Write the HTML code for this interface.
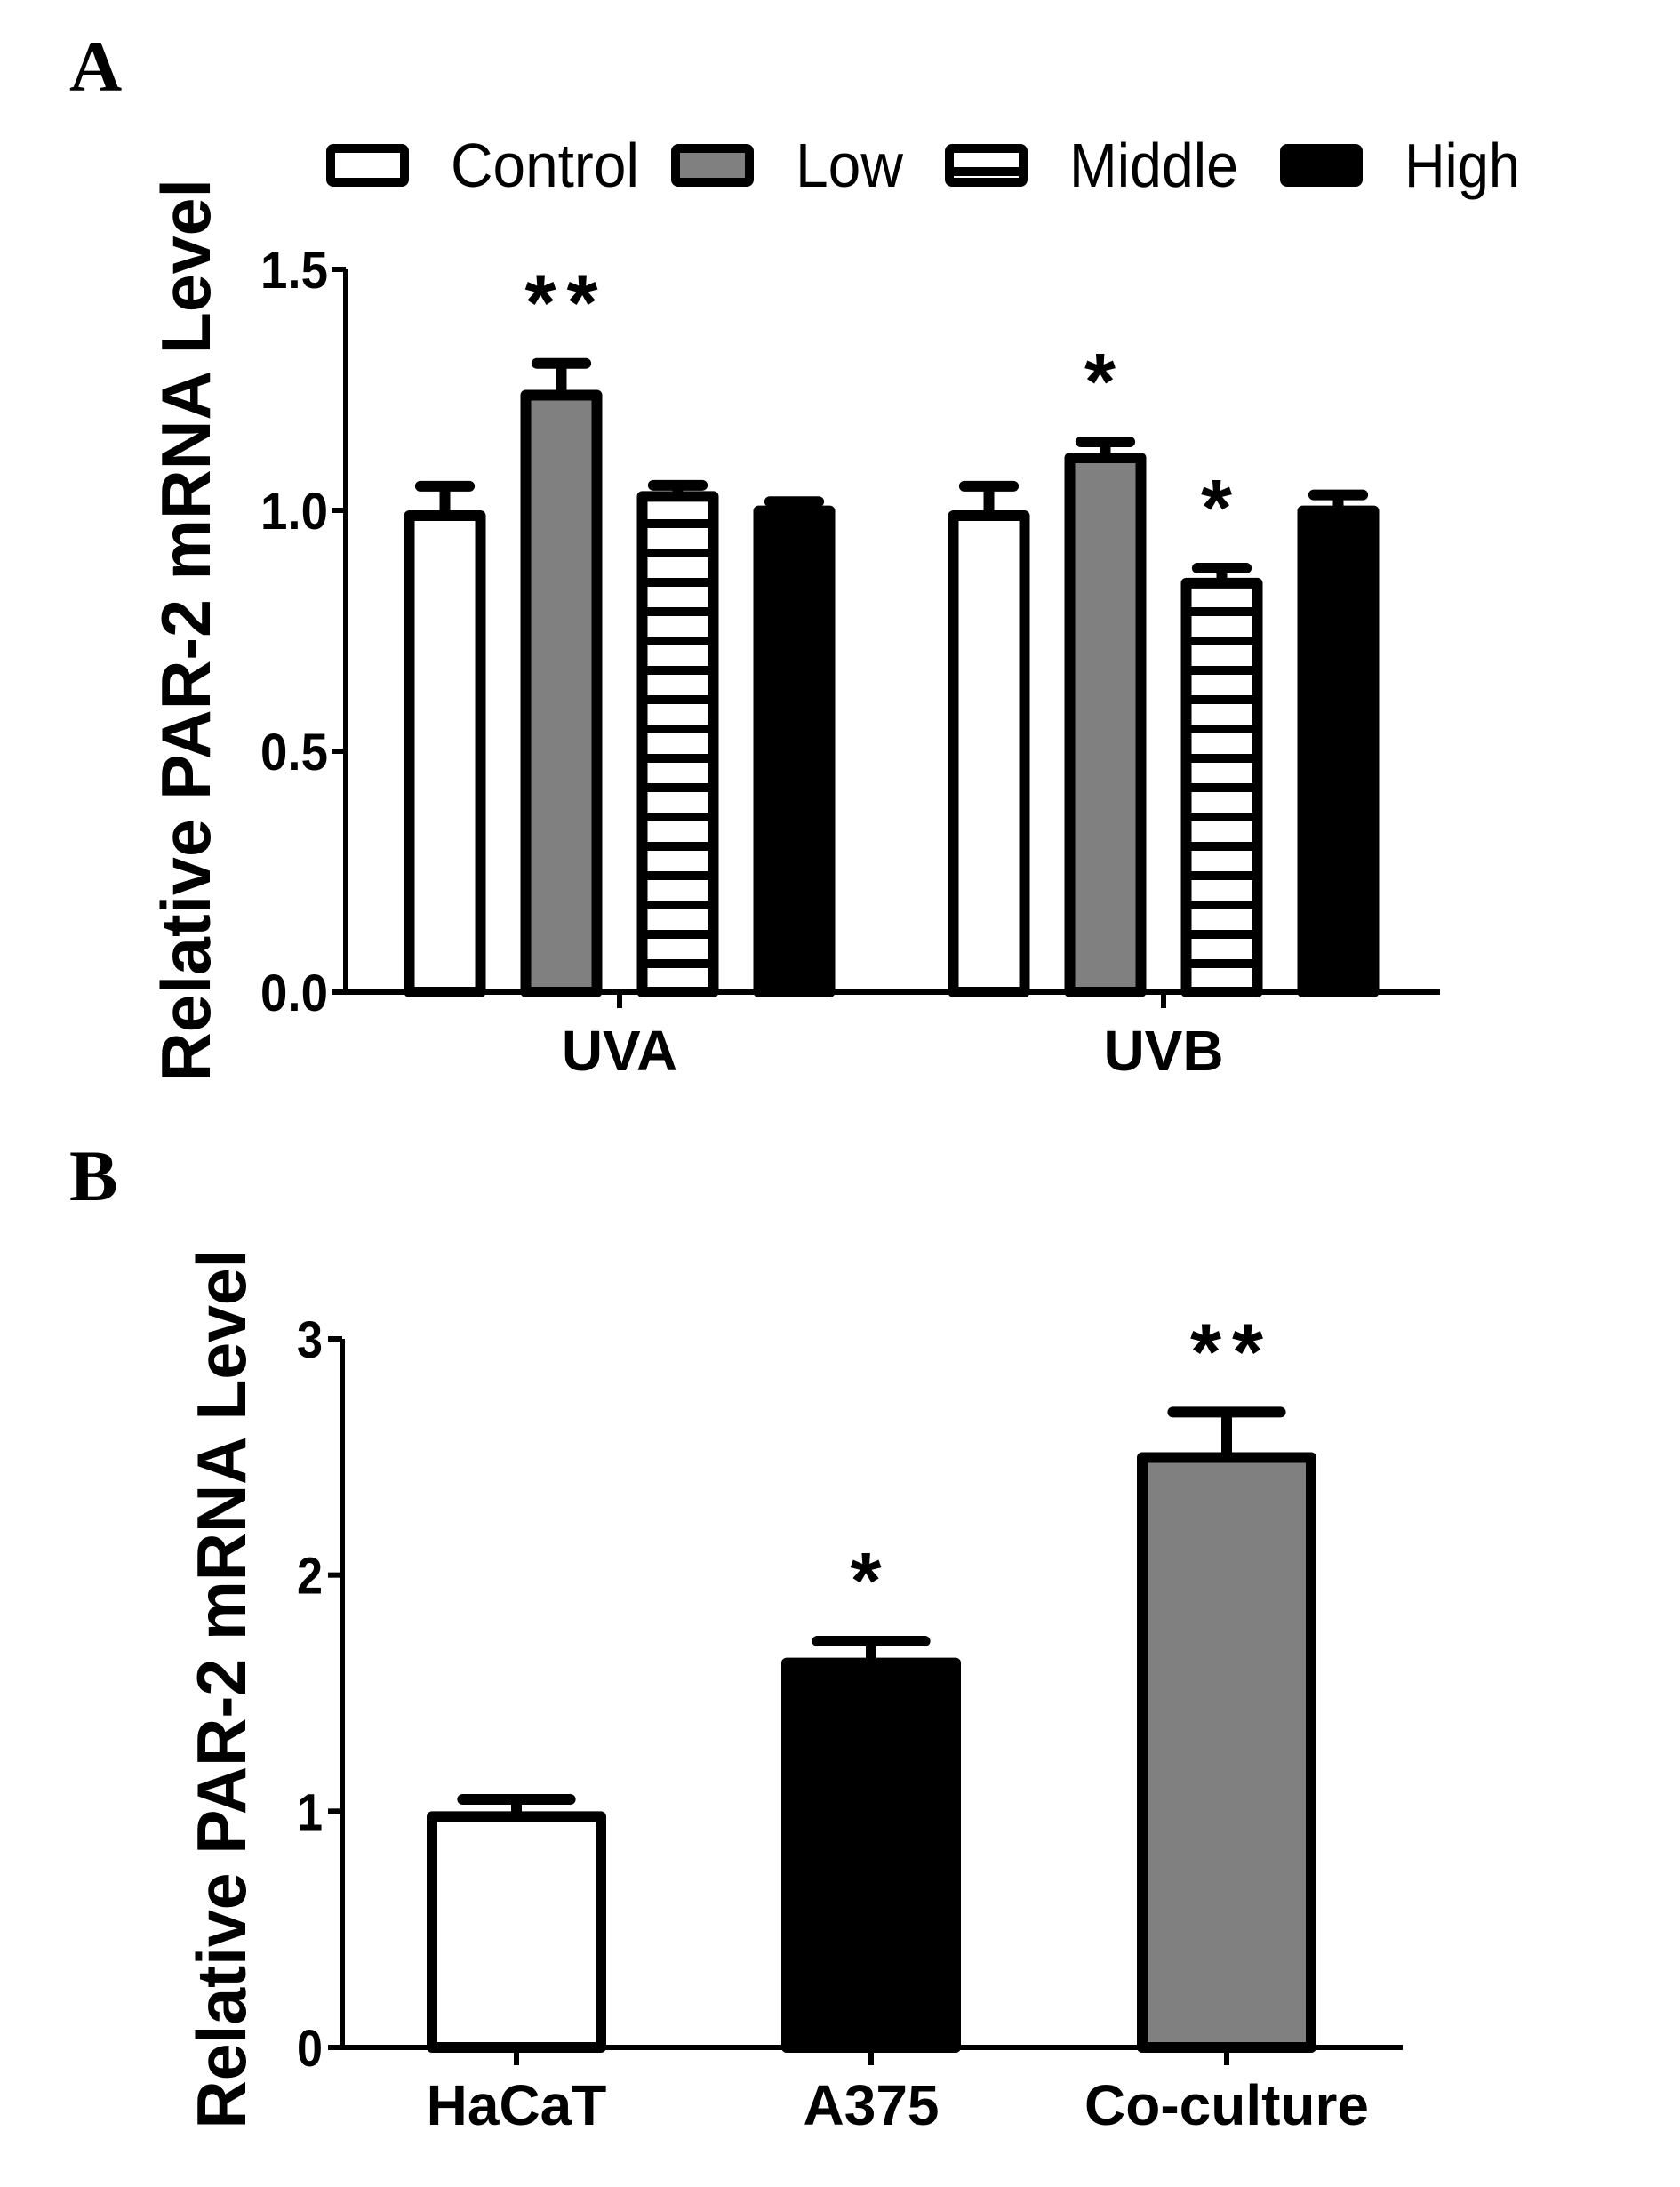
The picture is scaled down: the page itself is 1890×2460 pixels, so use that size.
<!DOCTYPE html>
<html><head><meta charset="utf-8"><style>
html,body{margin:0;padding:0;background:#fff;}
svg{display:block;}
text{font-family:"Liberation Sans",sans-serif;fill:#000;}
</style></head><body>
<svg id="fig" width="1890" height="2460" viewBox="0 0 1890 2460" xmlns="http://www.w3.org/2000/svg">
<defs>
<pattern id="hatch" patternUnits="userSpaceOnUse" width="20" height="33">
<rect x="0" y="0" width="20" height="33" fill="#fff"/>
<rect x="0" y="23" width="20" height="10" fill="#000"/>
</pattern>
</defs>
<text x="78" y="102" style="font-family:'Liberation Serif',serif;font-weight:bold;font-size:82px">A</text>
<text x="78" y="1350" style="font-family:'Liberation Serif',serif;font-weight:bold;font-size:82px">B</text>
<g id="chartA"></g>
<g id="chartB"></g>
</svg>
<script>
// Panel A data
const aGroups = ["UVA", "UVB"];
const aSeries = ["Control", "Low", "Middle", "High"];
const aUVA = [1.00, 1.25, 1.04, 1.01];
const aUVAErr = [0.05, 0.055, 0.012, 0.008];
const aUVB = [1.00, 1.12, 0.86, 1.01];
const aUVBErr = [0.05, 0.022, 0.02, 0.022];
const aUVASig = ["", "**", "", ""];
const aUVBSig = ["", "*", "*", ""];
const aTicks = [0.0, 0.5, 1.0, 1.5];
const aTickLabels = ["0.0", "0.5", "1.0", "1.5"];
// Panel B data
const bCats = ["HaCaT", "A375", "Co-culture"];
const bVals = [1.00, 1.65, 2.52];
const bErr = [0.05, 0.07, 0.17];
const bSig = ["", "*", "**"];
const bTicks = [0, 1, 2, 3];
const bTickLabels = ["0", "1", "2", "3"];

const NS = "http://www.w3.org/2000/svg";
function mk(parent, tag, attrs, txt) {
  const e = document.createElementNS(NS, tag);
  for (const k in attrs) e.setAttribute(k, attrs[k]);
  if (txt !== undefined) e.textContent = txt;
  parent.appendChild(e);
  return e;
}
const fills = {"Control": "#fff", "Low": "#808080", "Middle": "url(#hatch)", "High": "#000"};
const SW = 12;

function drawBar(g, cx, w, yTop, yBase, fill, errTop, name) {
  const r = mk(g, "rect", {x: cx - w/2 + SW/2, y: yTop + SW/2, width: w - SW, height: yBase - yTop - SW/2, fill: fill, stroke: "#000", "stroke-width": SW, "stroke-linejoin": "round"});
  
  
  const eb = mk(g, "path", {d: `M${cx} ${yTop} V${errTop} M${cx - w*0.3} ${errTop} H${cx + w*0.3}`, stroke: "#000", "stroke-width": SW, "stroke-linecap": "round", fill: "none"});
  
  
}
function drawSig(g, cx, errTop, label) {
  const st = mk(g, "text", {x: cx + (label.length > 1 ? 6 : 0), y: errTop + 3, "text-anchor": "middle", "font-size": 90, "font-weight": "bold", "letter-spacing": 12}, label);
  
  
}

// ---- Panel A ----
(function(){
  const g = document.getElementById("chartA");
  const x0 = 389, x1 = 1620, yBase = 1116, yTopV = 303, maxV = 1.5;
  const Y = v => yBase - (yBase - yTopV) * v / maxV;
  const groupCenters = [697, 1309];
  const step = 131, bw = 92;
  const ya = mk(g, "line", {x1: x0, y1: Y(1.5), x2: x0, y2: yBase + 3, stroke: "#000", "stroke-width": 6});
  
  
  const xa = mk(g, "line", {x1: x0 - 3, y1: yBase, x2: x1, y2: yBase, stroke: "#000", "stroke-width": 6});
  
  
  aTicks.forEach((t, i) => {
    const tk = mk(g, "line", {x1: x0 - 16, y1: Y(t), x2: x0, y2: Y(t), stroke: "#000", "stroke-width": 6});
    
    
    const tl = mk(g, "text", {x: x0 - 20, y: Y(t) + 21, "text-anchor": "end", "font-size": 58, "font-weight": "bold", textLength: 76, lengthAdjust: "spacingAndGlyphs"}, aTickLabels[i]);
    
    
  });
  const yt = mk(g, "text", {x: 0, y: 0, transform: `translate(236,709) rotate(-90)`, "text-anchor": "middle", "font-size": 78, "font-weight": "bold", textLength: 1016, lengthAdjust: "spacingAndGlyphs"}, "Relative PAR-2 mRNA Level");
  
  
  const vals = [aUVA, aUVB], errs = [aUVAErr, aUVBErr], sigs = [aUVASig, aUVBSig];
  aGroups.forEach((grp, gi) => {
    const gc = groupCenters[gi];
    const ct = mk(g, "line", {x1: gc, y1: yBase, x2: gc, y2: yBase + 18, stroke: "#000", "stroke-width": 6});
    
    
    const cl = mk(g, "text", {x: gc, y: 1204, "text-anchor": "middle", "font-size": 64, "font-weight": "bold"}, grp);
    
    
    aSeries.forEach((s, si) => {
      const cx = gc + (si - 1.5) * step;
      const v = vals[gi][si];
      const et = Y(v + errs[gi][si]);
      drawBar(g, cx, bw, Y(v), yBase, fills[s], et, 'bar-' + grp.toLowerCase() + '-' + s.toLowerCase());
      if (sigs[gi][si]) drawSig(g, cx, et - 40, sigs[gi][si]);
    });
  });
  const legX = [367, 755, 1063, 1440];
  const legTW = [212, 121, 190, 130];
  aSeries.forEach((s, i) => {
    const lg = mk(g, "g", {});
    
    
    mk(lg, "rect", {x: legX[i] + 5, y: 167, width: 83, height: 38, rx: 3, fill: fills[s], stroke: "#000", "stroke-width": 10});
    mk(lg, "text", {x: legX[i] + 140, y: 210, "font-size": 70, textLength: legTW[i], lengthAdjust: "spacingAndGlyphs"}, s);
  });
})();

// ---- Panel B ----
(function(){
  const g = document.getElementById("chartB");
  const x0 = 385, x1 = 1578, yBase = 2303, yTopV = 1506, maxV = 3;
  const Y = v => yBase - (yBase - yTopV) * v / maxV;
  const centers = [581, 980, 1380];
  const bw = 202;
  const bFills = ["#fff", "#000", "#808080"];
  const ya = mk(g, "line", {x1: x0, y1: Y(3), x2: x0, y2: yBase + 3, stroke: "#000", "stroke-width": 6});
  
  
  const xa = mk(g, "line", {x1: x0 - 3, y1: yBase, x2: x1, y2: yBase, stroke: "#000", "stroke-width": 6});
  
  
  bTicks.forEach((t, i) => {
    const tk = mk(g, "line", {x1: x0 - 16, y1: Y(t), x2: x0, y2: Y(t), stroke: "#000", "stroke-width": 6});
    
    
    const tl = mk(g, "text", {x: x0 - 22, y: Y(t) + 21, "text-anchor": "end", "font-size": 58, "font-weight": "bold", textLength: 29, lengthAdjust: "spacingAndGlyphs"}, bTickLabels[i]);
    
    
  });
  const yt = mk(g, "text", {x: 0, y: 0, transform: `translate(276,1900) rotate(-90)`, "text-anchor": "middle", "font-size": 78, "font-weight": "bold", textLength: 989, lengthAdjust: "spacingAndGlyphs"}, "Relative PAR-2 mRNA Level");
  
  
  bCats.forEach((c, i) => {
    const cx = centers[i];
    const ct = mk(g, "line", {x1: cx, y1: yBase, x2: cx, y2: yBase + 20, stroke: "#000", "stroke-width": 6});
    
    
    const cl = mk(g, "text", {x: cx, y: 2390, "text-anchor": "middle", "font-size": 64, "font-weight": "bold"}, c);
    
    
    const et = Y(bVals[i] + bErr[i]);
    drawBar(g, cx, bw, Y(bVals[i]), yBase, bFills[i], et, 'bar-' + c.toLowerCase());
    if (bSig[i]) drawSig(g, cx, et - 40, bSig[i]);
  });
})();
</script>
</body></html>
